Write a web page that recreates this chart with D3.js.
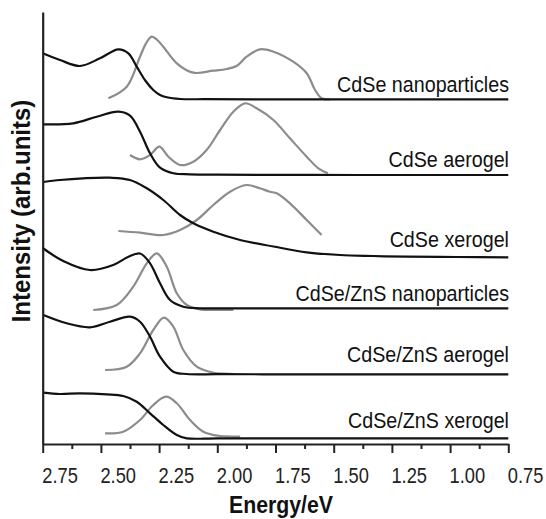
<!DOCTYPE html>
<html><head><meta charset="utf-8">
<script src="https://cdn.jsdelivr.net/npm/d3@7"></script>
<style>
html,body{margin:0;padding:0;background:#fff;}
svg{display:block;font-family:"Liberation Sans",Arial,sans-serif;}
</style></head>
<body><svg id="c" width="546" height="519"></svg>
<script>
// Sample names (top to bottom)
const samples = ["CdSe nanoparticles","CdSe aerogel","CdSe xerogel","CdSe/ZnS nanoparticles","CdSe/ZnS aerogel","CdSe/ZnS xerogel"];
// Label baseline levels (arb. units, stacked)
const labelLevels = [352.3, 277.3, 197.3, 143.3, 82.3, 15.7];

// Absorption spectra [energy eV, intensity arb.u. incl. stack offset]
const absCdSeNP = [[2.75,390.7],[2.676,384],[2.590,378],[2.504,385.7],[2.425,394.7],[2.382,390.7],[2.346,377.3],[2.311,364],[2.275,354],[2.246,349],[2.217,346.7],[2.160,345],[2.05,344.8],[1.75,344.7],[1.4,344.7],[1.05,344.7],[0.75,344.7]];
const absCdSeAero = [[2.747,319.7],[2.619,320.7],[2.518,327.3],[2.425,332.3],[2.375,328.3],[2.332,312.3],[2.289,290.7],[2.246,276.3],[2.189,270.7],[2.117,269.7],[2.0,269.3],[1.7,269.1],[1.4,269],[1.05,269],[0.75,269]];
const absCdSeXero = [[2.747,262],[2.676,264],[2.576,265.7],[2.461,266.3],[2.375,264],[2.303,255.7],[2.232,244],[2.160,229],[2.103,220.7],[2.017,212.3],[1.902,204],[1.759,197.5],[1.616,191.7],[1.473,189],[1.33,188],[1.189,187.3],[0.97,187],[0.75,186.7]];
const absZnSNP = [[2.75,196],[2.662,183],[2.547,174],[2.447,179],[2.384,187],[2.332,190.5],[2.289,180.7],[2.246,160.7],[2.203,144],[2.146,137.3],[2.074,135.7],[1.95,135.7],[1.65,135.7],[1.3,135.7],[1.0,135.7],[0.75,135.7]];
const absZnSAero = [[2.747,129],[2.647,120.7],[2.547,116.7],[2.461,122.3],[2.375,127.3],[2.332,122.3],[2.289,107.3],[2.246,87.3],[2.189,72.3],[2.131,70],[2.0,69.8],[1.7,69.7],[1.4,69.7],[1.05,69.7],[0.75,69.7]];
const absZnSXero = [[2.747,51.3],[2.676,50],[2.590,50.7],[2.475,49.7],[2.404,48],[2.346,42.3],[2.289,30.7],[2.232,19],[2.174,9],[2.131,5.7],[2.0,5.7],[1.7,5.7],[1.4,5.7],[1.05,5.7],[0.75,5.7]];

// Photoluminescence spectra
const plCdSeNP = [[2.468,345.7],[2.389,357.3],[2.332,387.3],[2.306,400.7],[2.282,407.3],[2.258,404],[2.232,397.3],[2.174,380.7],[2.103,371.3],[2.017,373.3],[1.96,375],[1.917,378],[1.874,387.3],[1.817,394.7],[1.759,392.3],[1.674,382.3],[1.616,370.7],[1.580,354],[1.552,345.7],[1.516,344.5]];
const plCdSeAero = [[2.375,289],[2.332,284.7],[2.289,289],[2.249,297.3],[2.210,287.3],[2.160,279],[2.103,282.3],[2.046,294],[1.988,314],[1.931,332.3],[1.881,340.7],[1.831,335.7],[1.759,324],[1.688,305.7],[1.616,287.3],[1.566,275.7],[1.525,270.7]];
const plCdSeXero = [[2.425,213],[2.332,211.3],[2.232,209],[2.160,214],[2.088,224],[2.017,239],[1.945,252.3],[1.874,259],[1.817,255.7],[1.774,252.3],[1.745,250.7],[1.688,240.7],[1.616,224],[1.552,209]];
const plZnSNP = [[2.533,134],[2.432,139],[2.361,157.3],[2.303,180.7],[2.260,190.7],[2.217,177.3],[2.174,150.7],[2.131,139],[2.074,134.7],[2.0,134.2],[1.931,134]];
const plZnSAero = [[2.482,74],[2.389,77.3],[2.332,90.7],[2.275,114],[2.229,126.3],[2.189,117.3],[2.146,94],[2.088,77.3],[2.017,71.3],[1.97,70.3],[1.931,70]];
const plZnSXero = [[2.482,10.7],[2.404,12.3],[2.332,24],[2.275,39],[2.220,47.3],[2.174,40.7],[2.117,24],[2.060,12.3],[1.988,8],[1.945,7.5],[1.902,7.3]];

const absSeries = [absCdSeNP,absCdSeAero,absCdSeXero,absZnSNP,absZnSAero,absZnSXero];
const plSeries = [plCdSeNP,plCdSeAero,plCdSeXero,plZnSNP,plZnSAero,plZnSXero];

const majorTicks = [2.75,2.5,2.25,2.0,1.75,1.5,1.25,1.0,0.75];
const minorTicks = [2.625,2.375,2.125,1.875,1.625,1.375,1.125,0.875];

const svg = d3.select("#c");
const x = d3.scaleLinear().domain([2.75,0.75]).range([42.7,508.3]);
const y = d3.scaleLinear().domain([0,432]).range([444,12]);

const line = d3.line().x(d=>x(d[0])).y(d=>y(d[1])).curve(d3.curveCatmullRom.alpha(0.5));

// PL curves (gray) then absorption (black)
svg.append("g").selectAll("path").data(plSeries).join("path")
  .attr("d",line).attr("fill","none").attr("stroke","#8c8c8c").attr("stroke-width",2.2);
svg.append("g").selectAll("path").data(absSeries).join("path")
  .attr("d",line).attr("fill","none").attr("stroke","#111").attr("stroke-width",2.2);

// sample labels (slightly tall glyphs as in the reference)
svg.append("g").selectAll("text").data(samples).join("text")
  .attr("transform",(d,i)=>`translate(509,${y(labelLevels[i])}) scale(1,1.08)`)
  .attr("text-anchor","end").attr("font-size",19.7).attr("fill","#111")
  .text(d=>d);

// axes
const gx = svg.append("g").attr("transform","translate(0,444)");
gx.call(d3.axisBottom(x).tickValues(majorTicks).tickSize(9).tickSizeOuter(0).tickFormat(d3.format(".2f")));
gx.select(".domain").attr("stroke","#222").attr("stroke-width",2.2);
gx.selectAll(".tick line").attr("stroke","#222").attr("stroke-width",2);
gx.selectAll(".tick text").attr("text-anchor","start").attr("x",-1).attr("y",0)
  .attr("dy",0).attr("transform","translate(0,39) scale(1,1.18)")
  .attr("font-size",18.3).attr("fill","#222")
  .attr("font-family","Liberation Sans, Arial, sans-serif");
const gm = svg.append("g").attr("transform","translate(0,444)");
gm.call(d3.axisBottom(x).tickValues(minorTicks).tickSize(5).tickSizeOuter(0).tickFormat(""));
gm.select(".domain").remove();
gm.selectAll(".tick line").attr("stroke","#222").attr("stroke-width",2);

const gy = svg.append("g").attr("transform","translate(42.7,0)");
gy.call(d3.axisLeft(y).tickValues([]).tickSizeOuter(0));
gy.select(".domain").attr("stroke","#222").attr("stroke-width",2.2);

// axis titles
svg.append("text").attr("transform","translate(281,513) scale(1,1.1)").attr("text-anchor","middle")
  .attr("font-weight","bold").attr("font-size",21.3).attr("fill","#111").text("Energy/eV");
svg.append("text").attr("transform","translate(30,211) rotate(-90) scale(1,1.08)").attr("text-anchor","middle")
  .attr("font-weight","bold").attr("font-size",24).attr("fill","#111").text("Intensity (arb.units)");
</script></body></html>
